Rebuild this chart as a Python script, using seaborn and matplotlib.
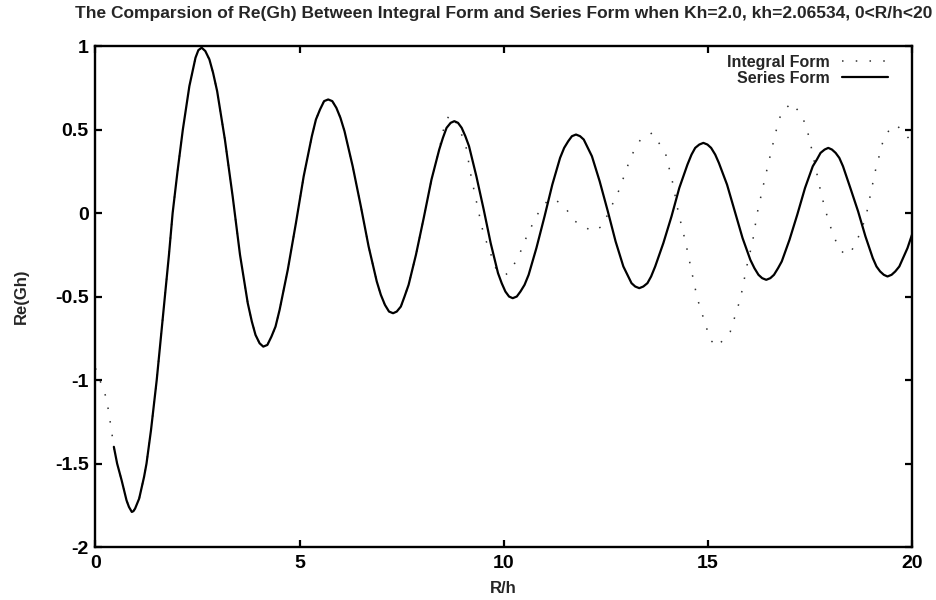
import matplotlib
matplotlib.use("Agg")
import matplotlib.pyplot as plt
import pandas as pd
import seaborn as sns
from matplotlib.ticker import FormatStrFormatter, MultipleLocator

# ---- data -----------------------------------------------------------------
# Series form of Re(Gh) against R/h (one row per half-wave)
series_x = [0.45, 0.53, 0.64, 0.76, 0.82, 0.89, 0.93, 0.97, 1.07, 1.19, 1.25, 1.36,
            1.50, 1.62, 1.70, 1.80, 1.89, 2.01, 2.14, 2.30, 2.45, 2.52, 2.60,
            2.69, 2.79, 2.88, 2.98, 3.17, 3.36, 3.54, 3.73, 3.83, 3.92, 4.02, 4.11,
            4.21, 4.31, 4.41, 4.51, 4.71, 4.91, 5.10, 5.30, 5.40, 5.50, 5.60, 5.70,
            5.80, 5.90, 6.00, 6.10, 6.30, 6.50, 6.69, 6.89, 6.99, 7.09, 7.19, 7.29,
            7.38, 7.48, 7.57, 7.67, 7.85, 8.04, 8.23, 8.42, 8.51, 8.60, 8.70, 8.79,
            8.88, 8.97, 9.06, 9.15, 9.33, 9.51, 9.68, 9.86, 9.95, 10.04, 10.13, 10.22,
            10.32, 10.41, 10.51, 10.61, 10.80, 11.00, 11.19, 11.38, 11.48, 11.58, 11.67, 11.77,
            11.87, 11.96, 12.06, 12.16, 12.35, 12.55, 12.74, 12.93, 13.03, 13.13, 13.22, 13.32,
            13.42, 13.52, 13.61, 13.71, 13.91, 14.11, 14.30, 14.50, 14.60, 14.69, 14.79, 14.89,
            14.99, 15.08, 15.18, 15.27, 15.47, 15.66, 15.85, 16.04, 16.14, 16.24, 16.33, 16.43,
            16.53, 16.62, 16.72, 16.81, 17.00, 17.19, 17.38, 17.57, 17.67, 17.76, 17.86, 17.95,
            18.04, 18.13, 18.22, 18.31, 18.49, 18.68, 18.86, 19.04, 19.13, 19.22, 19.31, 19.40,
            19.50, 19.59, 19.69, 19.78, 19.89, 20.00]
series_y = [-1.40, -1.50, -1.60, -1.72, -1.76, -1.79, -1.785, -1.77, -1.71, -1.58, -1.50, -1.30,
            -1.00, -0.70, -0.50, -0.25, 0.00, 0.25, 0.50, 0.76, 0.93, 0.975, 0.99,
            0.97, 0.92, 0.84, 0.73, 0.44, 0.10, -0.25, -0.54, -0.65, -0.73, -0.78, -0.80,
            -0.79, -0.74, -0.68, -0.58, -0.34, -0.06, 0.22, 0.46, 0.56, 0.62, 0.67, 0.68,
            0.67, 0.63, 0.57, 0.49, 0.28, 0.04, -0.20, -0.41, -0.49, -0.55, -0.59, -0.60,
            -0.59, -0.56, -0.50, -0.43, -0.25, -0.03, 0.20, 0.38, 0.45, 0.51, 0.54, 0.55,
            0.54, 0.51, 0.46, 0.40, 0.22, 0.02, -0.18, -0.36, -0.42, -0.47, -0.50, -0.51,
            -0.50, -0.47, -0.43, -0.37, -0.21, -0.02, 0.17, 0.33, 0.39, 0.43, 0.46, 0.47,
            0.46, 0.44, 0.39, 0.34, 0.19, 0.01, -0.17, -0.32, -0.37, -0.42, -0.44, -0.45,
            -0.44, -0.42, -0.38, -0.32, -0.18, -0.02, 0.15, 0.29, 0.35, 0.39, 0.41, 0.42,
            0.41, 0.39, 0.35, 0.30, 0.17, 0.01, -0.15, -0.28, -0.33, -0.37, -0.39, -0.40,
            -0.39, -0.37, -0.33, -0.29, -0.16, -0.01, 0.15, 0.28, 0.32, 0.36, 0.38, 0.39,
            0.38, 0.36, 0.33, 0.28, 0.15, 0.01, -0.14, -0.27, -0.32, -0.35, -0.37, -0.38,
            -0.37, -0.35, -0.32, -0.27, -0.21, -0.13]

# Integral form: its own values near R/h = 0 and beyond R/h ~ 8.5;
# in between it runs on top of the series form.
integral_head_x = [0.00, 0.27, 0.36]
integral_head_y = [-0.93, -1.11, -1.25]
integral_tail_x = [8.56, 8.68, 8.82, 9.06, 9.20, 9.40, 9.50, 9.82, 10.04, 10.16,
                   10.38, 10.58, 10.82, 11.09, 11.26, 11.48, 11.75, 12.17, 12.41, 12.83,
                   13.12, 13.35, 13.64, 13.96, 14.13, 14.28, 14.45, 14.74, 15.06, 15.23,
                   15.55, 15.80, 15.97, 16.09, 16.21, 16.39, 16.61, 16.70, 16.80, 17.05,
                   17.29, 17.42, 17.51, 17.78, 17.90, 18.00, 18.20, 18.37, 18.49, 18.66,
                   18.79, 18.89, 19.10, 19.30, 19.50, 19.65, 19.91, 20.00]
integral_tail_y = [0.54, 0.59, 0.55, 0.42, 0.22, -0.01, -0.12, -0.34, -0.37, -0.35,
                   -0.25, -0.13, -0.01, 0.08, 0.08, 0.04, -0.05, -0.11, -0.08, 0.14,
                   0.34, 0.44, 0.48, 0.36, 0.19, 0.00, -0.17, -0.51, -0.76, -0.80,
                   -0.71, -0.51, -0.30, -0.18, 0.00, 0.20, 0.43, 0.52, 0.60, 0.66,
                   0.59, 0.51, 0.42, 0.11, 0.00, -0.08, -0.21, -0.25, -0.24, -0.16,
                   -0.08, 0.00, 0.25, 0.44, 0.52, 0.52, 0.45, 0.41]

x_ticks = [0, 5, 10, 15, 20]
title = ("The Comparsion of Re(Gh) Between Integral Form and Series Form "
         "when Kh=2.0, kh=2.06534, 0<R/h<20")

# ---- frames ---------------------------------------------------------------
series = pd.DataFrame({"R/h": series_x, "Re(Gh)": series_y})
shared = series[series["R/h"] < 8.5]
integral = pd.concat([
    pd.DataFrame({"R/h": integral_head_x, "Re(Gh)": integral_head_y}),
    shared,
    pd.DataFrame({"R/h": integral_tail_x, "Re(Gh)": integral_tail_y}),
], ignore_index=True)

# ---- style ----------------------------------------------------------------
sns.set_theme(style="ticks")
plt.rcParams["font.family"] = ["Liberation Sans", "DejaVu Sans"]
plt.rcParams["font.weight"] = "bold"
plt.rcParams["axes.unicode_minus"] = False

fig = plt.figure(figsize=(9.37, 6.0), dpi=100)
fig.patch.set_facecolor("white")
ax = fig.add_axes([0.1019, 0.0883, 0.8714, 0.835])
ax.set_facecolor("white")

sns.lineplot(data=integral, x="R/h", y="Re(Gh)", sort=False, estimator=None,
             color="#303030", lw=1.1, linestyle=(0, (1, 8)), ax=ax,
             label="Integral Form")
sns.lineplot(data=series, x="R/h", y="Re(Gh)", sort=False, estimator=None,
             color="black", lw=1.6, ax=ax, label="Series Form")
for line in ax.get_lines():
    line.set_solid_joinstyle("round")

ax.set_xlim(0, 20)
ax.set_ylim(-2, 1)
ax.set_xticks(x_ticks)
ax.yaxis.set_major_locator(MultipleLocator(0.5))
ax.xaxis.set_major_formatter(FormatStrFormatter("%g"))
ax.yaxis.set_major_formatter(FormatStrFormatter("%g"))

for side in ["left", "right", "top", "bottom"]:
    ax.spines[side].set_visible(True)
    ax.spines[side].set_linewidth(1.7)
    ax.spines[side].set_color("black")

ax.tick_params(axis="both", direction="in", length=5, width=1.6,
               top=True, right=True, labelsize=14, colors="black")
ax.tick_params(axis="y", pad=5)
ax.tick_params(axis="x", pad=6)
for lbl in ax.get_xticklabels() + ax.get_yticklabels():
    lbl.set_fontweight("bold")

ax.set_xlabel("R/h", fontsize=12, fontweight="bold")
ax.set_ylabel("Re(Gh)", fontsize=12, fontweight="bold")
ax.xaxis.set_label_coords(0.5, -0.068)
ax.yaxis.set_label_coords(-0.082, 0.5)
ax.set_title(title, fontsize=12.5, fontweight="bold", pad=20)

leg = ax.legend(loc="upper right", bbox_to_anchor=(0.9706, 0.982),
                frameon=False, markerfirst=False, fontsize=11.5,
                handlelength=2.9, handletextpad=0.75, labelspacing=0.05,
                borderpad=0, borderaxespad=0)
for t in leg.get_texts():
    t.set_fontweight("bold")

fig.savefig("out.png", dpi=100, facecolor="white")
